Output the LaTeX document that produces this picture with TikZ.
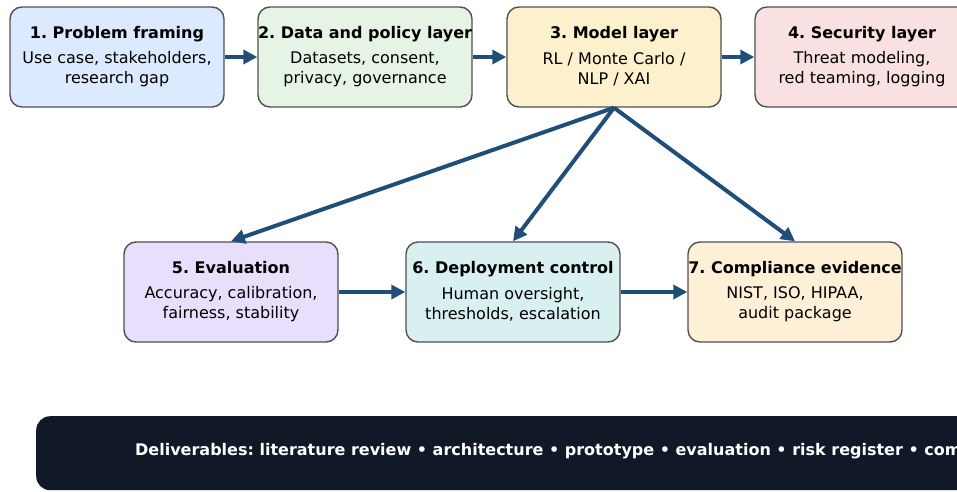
\documentclass[tikz,border=0pt]{standalone}
\usepackage{fontspec}
\setmainfont{DejaVu Sans}
\usetikzlibrary{arrows.meta}
\frenchspacing
\definecolor{c1}{HTML}{DBEAFE}
\definecolor{c2}{HTML}{E6F4E6}
\definecolor{c3}{HTML}{FDF0CD}
\definecolor{c4}{HTML}{F9E0E1}
\definecolor{c5}{HTML}{E9DFFC}
\definecolor{c6}{HTML}{D8F0F0}
\definecolor{c7}{HTML}{FEEFD7}
\definecolor{edge}{HTML}{505050}
\definecolor{arrc}{HTML}{1F4E79}
\definecolor{barc}{HTML}{111827}
\tikzset{
  box/.style={draw=edge, line width=1.4pt, rounded corners=12pt, minimum width=214pt, minimum height=100pt, inner sep=0pt},
  ttl/.style={font=\fontsize{16}{20}\selectfont\bfseries, inner sep=0pt, text height=11.5pt, text depth=3.5pt},
  bod/.style={font=\fontsize{16}{20}\selectfont, align=center, inner sep=0pt},
  arr/.style={draw=arrc, line width=4pt, -{Triangle[length=14pt,width=14pt]}, shorten >=0pt},
}
\begin{document}
\begin{tikzpicture}[x=1pt,y=-1pt]
\useasboundingbox (0,0) rectangle (957,491);
\clip (0,0) rectangle (957,491);
% boxes
\node[box, fill=c1] (b1) at (117,57) {};
\node[box, fill=c2] (b2) at (365,57) {};
\node[box, fill=c3] (b3) at (614,57) {};
\node[box, fill=c4] (b4) at (862,57) {};
\node[box, fill=c5] (b5) at (231,292) {};
\node[box, fill=c6] (b6) at (513,292) {};
\node[box, fill=c7] (b7) at (795,292) {};
% texts
\node[ttl] (t1) at (117,34) {1. Problem framing};
\node[bod] (d1) at (117,69) {Use case, stakeholders,\\research gap};
\node[ttl] (t2) at (365,34) {2. Data and policy layer};
\node[bod] (d2) at (365,69) {Datasets, consent,\\privacy, governance};
\node[ttl] (t3) at (614,34) {3. Model layer};
\node[bod] (d3) at (614,69) {RL / Monte Carlo /\\NLP / XAI};
\node[ttl] (t4) at (862,34) {4. Security layer};
\node[bod] (d4) at (862,69) {Threat modeling,\\red teaming, logging};
\node[ttl] (t5) at (231,269) {5. Evaluation};
\node[bod] (d5) at (231,304) {Accuracy, calibration,\\fairness, stability};
\node[ttl] (t6) at (513,269) {6. Deployment control};
\node[bod] (d6) at (513,304) {Human oversight,\\thresholds, escalation};
\node[ttl] (t7) at (795,269) {7. Compliance evidence};
\node[bod] (d7) at (795,304) {NIST, ISO, HIPAA,\\audit package};
% arrows
\draw[arr] (b1.east) -- (b2.west);
\draw[arr] (b2.east) -- (b3.west);
\draw[arr] (b3.east) -- (b4.west);
\draw[arr] (b3.south) -- (b5.north);
\draw[arr] (b3.south) -- (b6.north);
\draw[arr] (b3.south) -- (b7.north);
\draw[arr] (b5.east) -- (b6.west);
\draw[arr] (b6.east) -- (b7.west);
% bottom bar
\node[fill=barc, rounded corners=14pt, minimum width=1000pt, minimum height=74pt, inner sep=0pt, anchor=north west] (bar) at (36,416) {};
\node[anchor=west, text=white, font=\fontsize{16}{19}\selectfont\bfseries, inner sep=0pt] (bt) at (135,451) {Deliverables: literature review • architecture • prototype • evaluation • risk register • compliance};
\end{tikzpicture}
\end{document}
